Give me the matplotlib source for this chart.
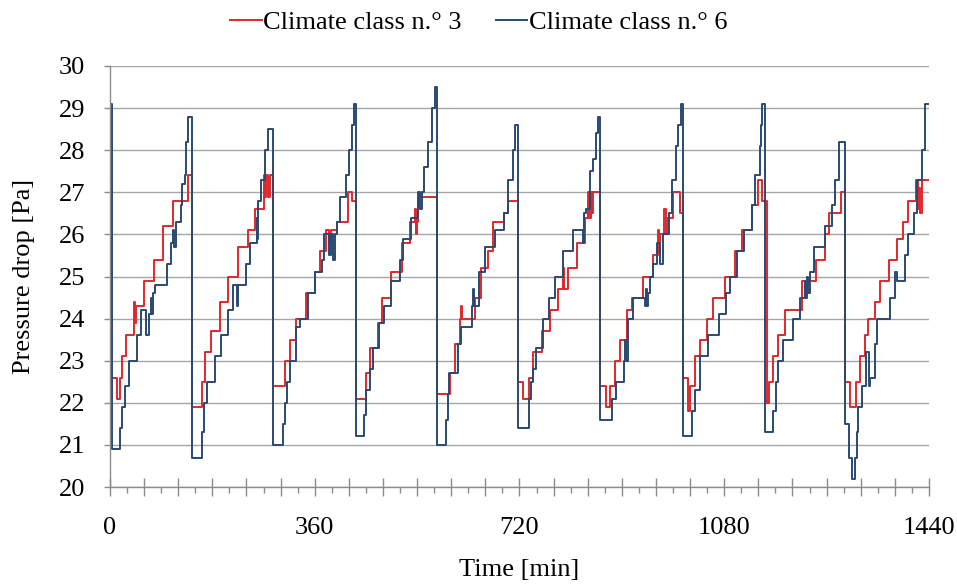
import matplotlib
matplotlib.use("Agg")
import matplotlib.pyplot as plt
from matplotlib.ticker import FixedLocator, FuncFormatter

plt.rcParams["font.family"] = ["Liberation Serif", "DejaVu Serif"]

# step breakpoints (time in min, pressure drop in Pa)
class6_t = [0, 3, 18, 22, 26, 33, 48, 55, 64, 69, 72, 74, 76, 79, 100, 108, 111, 113, 116, 125, 127, 132, 134, 138,
            145, 161, 166, 170, 185, 196, 208, 217, 223, 226, 240, 246, 258, 259, 261, 265, 272, 278,
            287, 304, 307, 311, 317, 327, 335, 349, 361, 372, 376, 386, 389, 392, 395, 399, 405, 415, 421, 425, 429,
            432, 447, 450, 457, 462, 473, 481, 495, 510, 516, 530, 542, 546, 549, 552, 560, 566, 571,
            575, 590, 594, 596, 612, 617, 636, 638, 640, 648, 659, 677, 692, 700, 709, 712,
            718, 736, 740, 744, 749, 762, 772, 782, 797, 815, 832, 834, 837, 844, 850, 854, 858,
            862, 882, 890, 903, 905, 907, 911, 920, 940, 942, 944, 946, 949, 955, 961, 967, 973, 983, 989, 996, 999, 1004,
            1008, 1024, 1029, 1038, 1052, 1070, 1084, 1090, 1102, 1114, 1128, 1134, 1143, 1145, 1147,
            1151, 1166, 1171, 1175, 1184, 1201, 1213, 1222, 1224, 1226, 1228, 1231, 1237, 1257, 1269, 1275, 1281,
            1292, 1300, 1304, 1310, 1313, 1316, 1322, 1330, 1334, 1336, 1345, 1349, 1372, 1380, 1383, 1398, 1404,
            1413, 1419, 1427, 1433, 1440]
class6_v = [29.1, 20.9, 21.4, 21.9, 22.4, 23.0, 23.6, 24.2, 23.6, 24.1, 24.5, 24.1, 24.6, 24.8, 25.3, 25.8, 26.1, 25.7,
            26.3, 26.7, 27.2, 27.4, 28.2, 28.8,
            20.7, 21.3, 22.0, 22.5, 23.1, 23.6, 24.2, 24.8, 24.3, 24.8, 25.3, 25.8, 26.4, 25.9, 26.8, 27.3, 28.0, 28.5,
            21.0, 21.5, 22.0, 22.5, 23.0, 23.8, 24.0, 24.6, 25.1, 25.4, 26.0, 25.5, 26.0, 25.4, 26.0, 26.3, 26.9, 27.4,
            28.0, 28.6, 29.1,
            21.2, 21.7, 22.3, 22.8, 23.3, 23.9, 24.3, 24.9, 25.4, 25.9, 26.4, 27.0, 26.6, 27.0, 27.6, 28.2, 29.0, 29.5,
            21.0, 21.6, 22.2, 22.7, 23.4, 23.8, 24.3, 24.7, 24.3, 25.1, 25.7, 26.1, 26.5, 27.3, 28.0, 28.6,
            21.4, 22.1, 22.5, 22.8, 23.3, 24.0, 24.5, 25.0, 25.6, 26.1, 25.8, 26.5, 26.6, 27.5, 27.8, 28.4, 28.8,
            21.6, 22.1, 22.5, 23.0, 23.5, 23.0, 24.0, 24.5, 24.3, 24.7, 24.3, 24.6, 25.0, 25.3, 25.8, 25.3, 26.0, 26.5,
            27.3, 28.1, 28.6, 29.1,
            21.2, 21.8, 22.3, 23.1, 23.6, 24.1, 24.6, 25.0, 25.6, 26.1, 26.7, 27.4, 28.1, 28.6, 29.1,
            21.3, 21.8, 22.5, 23.0, 23.5, 24.0, 24.5, 24.9, 24.5, 25.0, 24.6, 25.1, 25.7, 26.2, 26.7, 27.3, 28.2,
            21.5, 20.7, 20.2, 20.7, 21.3, 21.9, 22.4, 23.2, 22.4, 22.6, 23.4, 24.0, 24.5, 25.1, 24.9, 25.5, 26.0,
            26.5, 27.3, 28.0, 29.1, 29.1]

class3_t = [0, 2, 12, 18, 22, 29, 43, 44, 46, 59, 78, 94, 111, 138,
            144, 161, 167, 178, 193, 208, 226, 243, 255, 270, 273, 275, 278, 281,
            287, 307, 317, 327, 345, 361, 369, 380, 386, 389, 399, 419, 425,
            432, 450, 457, 472, 479, 495, 513, 527, 536, 538, 540, 542,
            575, 598, 606, 615, 617, 619, 642, 652, 665, 674, 692, 700,
            718, 727, 736, 744, 759, 774, 788, 796, 798, 806, 821, 836, 841, 843, 845, 847, 850,
            862, 873, 879, 888, 897, 909, 917, 938, 955, 963, 965, 967, 975, 977, 980, 990, 1002,
            1008, 1017, 1020, 1029, 1038, 1049, 1061, 1081, 1099, 1111, 1128, 1140, 1146,
            1155, 1159, 1166, 1175, 1187, 1216, 1242, 1257, 1265, 1286,
            1292, 1301, 1312, 1319, 1328, 1333, 1345, 1354, 1369, 1383, 1395, 1404, 1418, 1421, 1423, 1425, 1427, 1440]
class3_v = [27.3, 22.6, 22.1, 22.6, 23.1, 23.6, 24.4, 23.9, 24.3, 24.9, 25.4, 26.2, 26.8, 27.4,
            21.9, 22.5, 23.2, 23.7, 24.4, 25.0, 25.7, 26.1, 26.6, 27.4, 26.9, 27.4, 26.9, 27.4,
            22.4, 23.0, 23.5, 24.0, 24.6, 25.1, 25.6, 26.1, 25.8, 26.1, 26.3, 27.0, 26.8,
            22.1, 22.7, 23.3, 23.9, 24.5, 25.1, 25.8, 26.3, 26.6, 26.0, 26.3, 26.9,
            22.2, 22.7, 23.4, 24.0, 24.3, 24.0, 24.5, 25.2, 25.6, 26.3, 26.5, 26.8,
            22.5, 22.1, 22.6, 23.2, 23.7, 24.2, 24.7, 25.2, 24.7, 25.2, 25.8, 26.4, 27.0, 26.4, 27.0, 26.5, 27.0,
            22.4, 21.9, 22.4, 23.0, 23.5, 24.2, 24.5, 25.0, 25.5, 26.1, 25.6, 26.0, 26.6, 26.0, 26.4, 27.0, 26.5,
            22.6, 21.8, 22.4, 23.1, 23.5, 24.0, 24.5, 25.0, 25.6, 26.1, 26.7, 27.3, 26.8,
            22.0, 22.5, 23.1, 23.6, 24.2, 24.9, 25.4, 26.0, 26.5, 27.0,
            22.5, 21.9, 22.5, 23.1, 23.6, 24.0, 24.4, 24.9, 25.4, 25.9, 26.3, 26.8, 27.3, 26.6, 27.1, 26.5, 27.3, 27.3]

labels = ["Climate class n.° 3", "Climate class n.° 6"]
colors = ["#e0282c", "#2b4a70"]
xtick_labels = [0, 360, 720, 1080, 1440]

fig = plt.figure(figsize=(9.57, 5.85), dpi=100)
ax = fig.add_axes([0.1149, 0.1675, 0.8558, 0.7197])

ax.plot(class3_t, class3_v, drawstyle="steps-post", color=colors[0], lw=1.4, label=labels[0])
ax.plot(class6_t, class6_v, drawstyle="steps-post", color=colors[1], lw=1.4, label=labels[1])

ax.set_xlim(0, 1440)
ax.set_ylim(20, 30)
ax.set_yticks(range(20, 31))
ax.yaxis.grid(True, color="#a6a6a6", lw=1.0)
ax.set_axisbelow(True)

ax.xaxis.set_major_locator(FixedLocator(list(range(0, 1441, 60))))
ax.xaxis.set_minor_locator(FixedLocator(list(range(30, 1440, 60))))
ax.xaxis.set_major_formatter(FuncFormatter(lambda x, p: f"{int(x)}" if int(x) in xtick_labels else ""))

for s in ["top", "right"]:
    ax.spines[s].set_visible(False)
for s in ["left", "bottom"]:
    ax.spines[s].set_color("#8c8c8c")
    ax.spines[s].set_linewidth(1.0)

ax.tick_params(axis="x", which="major", direction="inout", length=13, width=1, color="#8c8c8c",
               labelsize=19, pad=15)
ax.tick_params(axis="x", which="minor", direction="out", length=4, width=1, color="#8c8c8c")
ax.tick_params(axis="y", which="major", direction="out", length=4, width=1, color="#8c8c8c",
               labelsize=19, pad=14)

ax.set_xlabel("Time [min]", fontsize=19)
ax.xaxis.set_label_coords(0.5, -0.172)
ax.set_ylabel("Pressure drop [Pa]", fontsize=19)
ax.yaxis.set_label_coords(-0.092, 0.5)

fig.legend(loc="upper center", bbox_to_anchor=(0.500, 1.022), ncol=2, frameon=False, fontsize=19,
           handlelength=1.2, handletextpad=0.05, columnspacing=1.3)

fig.savefig("out.png", dpi=100)
